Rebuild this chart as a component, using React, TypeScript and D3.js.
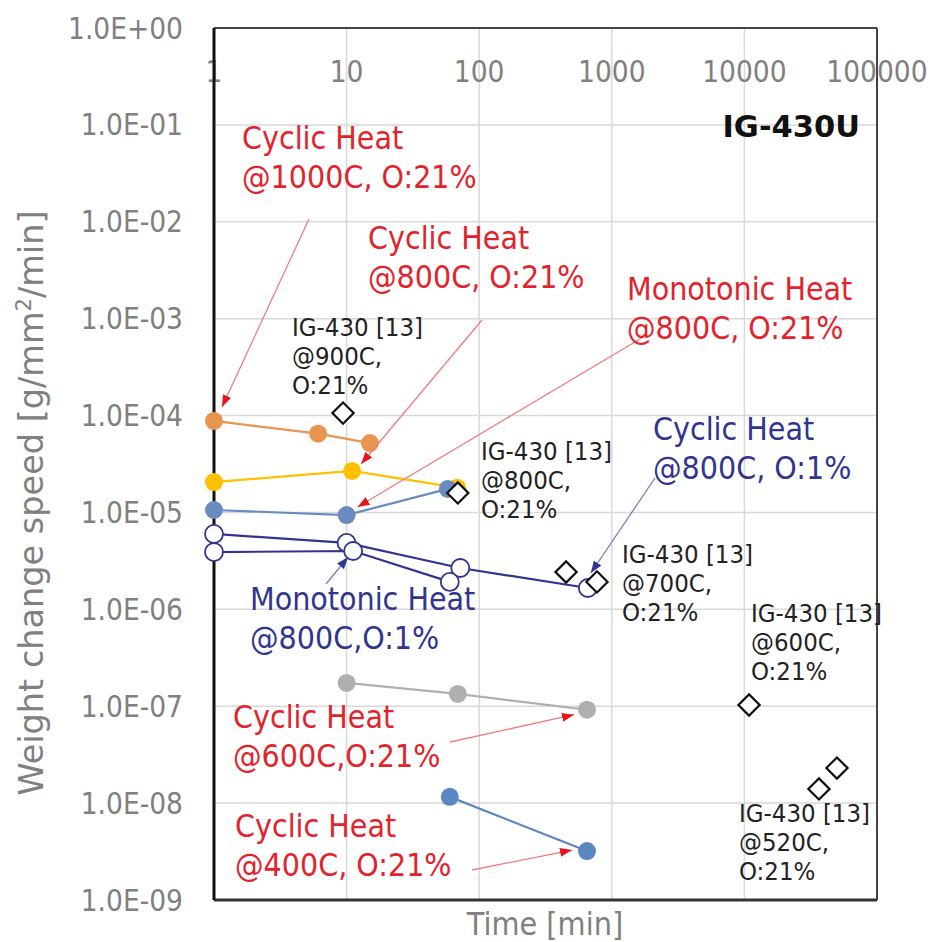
import React from 'react';
import * as d3 from 'd3';

// time [min] vs weight change speed [g/mm2/min]
const cyclic1000 = [{ t: 1, v: 8.8e-5 }, { t: 6.1, v: 6.5e-5 }, { t: 15, v: 5.2e-5 }];
const cyclic800 = [{ t: 1, v: 2.06e-5 }, { t: 11, v: 2.68e-5 }, { t: 68, v: 1.8e-5 }];
const mono800 = [{ t: 1, v: 1.06e-5 }, { t: 10, v: 9.4e-6 }, { t: 58, v: 1.75e-5 }];
const cyclic800low = [{ t: 1, v: 6.0e-6 }, { t: 10, v: 4.85e-6 }, { t: 72, v: 2.67e-6 }, { t: 660, v: 1.66e-6 }];
const mono800low = [{ t: 1, v: 3.9e-6 }, { t: 11.2, v: 4.0e-6 }, { t: 60, v: 1.92e-6 }];
const cyclic600 = [{ t: 10, v: 1.74e-7 }, { t: 69, v: 1.34e-7 }, { t: 650, v: 9.2e-8 }];
const cyclic400 = [{ t: 60, v: 1.16e-8 }, { t: 650, v: 3.2e-9 }];
const ref13 = [
  { t: 9.4, v: 1.06e-4 }, { t: 69, v: 1.59e-5 }, { t: 452, v: 2.43e-6 }, { t: 773, v: 1.92e-6 },
  { t: 10840, v: 1.03e-7 }, { t: 36500, v: 1.4e-8 }, { t: 49900, v: 2.3e-8 },
];

const xTicks = [1, 10, 100, 1000, 10000, 100000];
const yTicks = [1, 1e-1, 1e-2, 1e-3, 1e-4, 1e-5, 1e-6, 1e-7, 1e-8, 1e-9];
const yTickLabels = ['1.0E+00', '1.0E-01', '1.0E-02', '1.0E-03', '1.0E-04', '1.0E-05', '1.0E-06', '1.0E-07', '1.0E-08', '1.0E-09'];

const RED = '#e3232b';
const NAVY = '#2f3590';
const FONT = "'DejaVu Sans Condensed', 'DejaVu Sans', sans-serif";

const series = [
  { data: cyclic1000, color: '#e8954f', open: false },
  { data: cyclic800, color: '#ffc000', open: false },
  { data: mono800, color: '#6a8ac0', open: false },
  { data: cyclic800low, color: NAVY, open: true },
  { data: mono800low, color: NAVY, open: true },
  { data: cyclic600, color: '#afafaf', open: false },
  { data: cyclic400, color: '#5b87c0', open: false },
];

const bigLabels = [
  { lines: ['Cyclic Heat', '@1000C, O:21%'], x: 242, y: 149, color: RED },
  { lines: ['Cyclic Heat', '@800C, O:21%'], x: 368, y: 249, color: RED },
  { lines: ['Monotonic Heat', '@800C, O:21%'], x: 627, y: 300, color: RED },
  { lines: ['Cyclic Heat', '@800C, O:1%'], x: 653, y: 440, color: NAVY },
  { lines: ['Monotonic Heat', '@800C,O:1%'], x: 250, y: 610, color: NAVY },
  { lines: ['Cyclic Heat', '@600C,O:21%'], x: 233, y: 728, color: RED },
  { lines: ['Cyclic Heat', '@400C, O:21%'], x: 235, y: 837, color: RED },
];

const refLabels = [
  { lines: ['IG-430 [13]', '@900C,', 'O:21%'], x: 292, y: 336 },
  { lines: ['IG-430 [13]', '@800C,', 'O:21%'], x: 481, y: 460 },
  { lines: ['IG-430 [13]', '@700C,', 'O:21%'], x: 622, y: 563 },
  { lines: ['IG-430 [13]', '@600C,', 'O:21%'], x: 751, y: 622 },
  { lines: ['IG-430 [13]', '@520C,', 'O:21%'], x: 739, y: 822 },
];

// arrow tail in px, tip = data point + offset
const arrows = [
  { x1: 309, y1: 219, to: cyclic1000[0], dx: 8, dy: -14, kind: 'red' },
  { x1: 482, y1: 320, to: cyclic800[1], dx: 9, dy: -7, kind: 'red' },
  { x1: 645, y1: 336, to: mono800[1], dx: 11, dy: -8, kind: 'red' },
  { x1: 655, y1: 478, to: cyclic800low[3], dx: 3, dy: -15, kind: 'navy' },
  { x1: 326, y1: 584, to: mono800low[1], dx: -5, dy: 6, kind: 'navy' },
  { x1: 450, y1: 742, to: cyclic600[2], dx: -13, dy: 5, kind: 'red' },
  { x1: 472, y1: 870, to: cyclic400[1], dx: -15, dy: -1, kind: 'red' },
];

const App = () => {
  const width = 933;
  const height = 942;
  const left = 214, right = 877, top = 28, bottom = 900;

  const x = d3.scaleLog().domain([1, 1e5]).range([left, right]);
  const y = d3.scaleLog().domain([1e-9, 1]).range([bottom, top]);

  const line = d3.line<{ t: number; v: number }>()
    .x(d => x(d.t))
    .y(d => y(d.v));

  return (
    <svg width={width} height={height} style={{ position: 'absolute', left: 0, top: 0, background: '#fff' }} fontFamily={FONT}>
      <defs>
        <marker id="headRed" viewBox="0 0 10 10" refX="10" refY="5" markerWidth="12" markerHeight="9" markerUnits="userSpaceOnUse" orient="auto" preserveAspectRatio="none">
          <path d="M0,0 L10,5 L0,10 z" fill="#e8141c" />
        </marker>
        <marker id="headNavy" viewBox="0 0 10 10" refX="10" refY="5" markerWidth="12" markerHeight="9" markerUnits="userSpaceOnUse" orient="auto" preserveAspectRatio="none">
          <path d="M0,0 L10,5 L0,10 z" fill={NAVY} />
        </marker>
      </defs>

      {/* grid */}
      <g stroke="#d9d9d9" strokeWidth={1.5}>
        {xTicks.slice(1, -1).map(t => (
          <line key={'gx' + t} x1={x(t)} x2={x(t)} y1={top} y2={bottom} />
        ))}
        {yTicks.slice(1, -1).map(t => (
          <line key={'gy' + t} x1={left} x2={right} y1={y(t)} y2={y(t)} />
        ))}
      </g>

      {/* frame */}
      <line x1={left} x2={right} y1={top} y2={top} stroke="#444" strokeWidth={2} />
      <line x1={right} x2={right} y1={top} y2={bottom} stroke="#444" strokeWidth={2} />
      <line x1={left} x2={right} y1={bottom} y2={bottom} stroke="#333" strokeWidth={3} />

      {/* tick labels */}
      <g fill="#808080" fontSize={29.5}>
        {xTicks.map(t => (
          <text key={'tx' + t} x={x(t)} y={82} textAnchor="middle">{String(t)}</text>
        ))}
        {yTicks.map((t, i) => (
          <text key={'ty' + t} x={183} y={y(t) + 10.5} textAnchor="end">{yTickLabels[i]}</text>
        ))}
      </g>
      <line x1={left} x2={left} y1={top} y2={bottom} stroke="#111" strokeWidth={3} />

      {/* axis titles */}
      <text x={545} y={935} textAnchor="middle" fill="#808080" fontSize={32}>Time [min]</text>
      <text transform={`translate(43,${503}) rotate(-90)`} textAnchor="middle" fill="#808080"
        fontFamily="'DejaVu Sans', sans-serif" fontSize={33.5}>
        Weight change speed [g/mm<tspan dy={-12} fontSize={21}>2</tspan><tspan dy={12}>/min]</tspan>
      </text>

      <text x={860} y={137} textAnchor="end" fontFamily="'DejaVu Sans', sans-serif" fontWeight="bold" fontSize={30.5} fill="#111">IG-430U</text>

      {/* series */}
      {series.map((s, i) => (
        <path key={'l' + i} d={line(s.data) || ''} fill="none" stroke={s.color} strokeWidth={2.2} />
      ))}
      {series.map((s, i) => (
        <g key={'p' + i}>
          {s.data.map((d, j) => (
            <circle key={j} cx={x(d.t)} cy={y(d.v)} r={9}
              fill={s.open ? '#fff' : s.color} stroke={s.open ? s.color : 'none'} strokeWidth={1.8} />
          ))}
        </g>
      ))}
      {ref13.map((d, i) => (
        <rect key={'d' + i} x={-7.5} y={-7.5} width={15} height={15}
          transform={`translate(${x(d.t)},${y(d.v)}) rotate(45)`}
          fill="#fff" stroke="#111" strokeWidth={2.2} />
      ))}

      {/* arrows */}
      {arrows.map((a, i) => (
        <line key={'a' + i} x1={a.x1} y1={a.y1} x2={x(a.to.t) + a.dx} y2={y(a.to.v) + a.dy}
          stroke={a.kind === 'red' ? '#f07c80' : '#7a7ec0'} strokeWidth={1.3}
          markerEnd={a.kind === 'red' ? 'url(#headRed)' : 'url(#headNavy)'} />
      ))}

      {/* annotation text */}
      {bigLabels.map((b, i) => (
        <text key={'b' + i} x={b.x} y={b.y} fill={b.color} fontSize={31.8}>
          {b.lines.map((l, j) => (
            <tspan key={j} x={b.x} dy={j === 0 ? 0 : 39}>{l}</tspan>
          ))}
        </text>
      ))}
      {refLabels.map((b, i) => (
        <text key={'r' + i} x={b.x} y={b.y} fill="#222" fontSize={25.5}>
          {b.lines.map((l, j) => (
            <tspan key={j} x={b.x} dy={j === 0 ? 0 : 29}>{l}</tspan>
          ))}
        </text>
      ))}
    </svg>
  );
};

export default App;
